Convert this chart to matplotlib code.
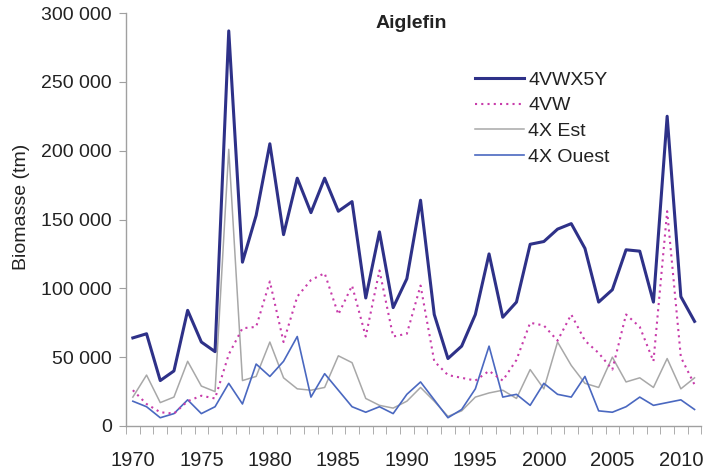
import matplotlib
matplotlib.use("Agg")
import matplotlib.pyplot as plt
from matplotlib.ticker import FuncFormatter, FixedLocator
import numpy as np

plt.rcParams['font.family'] = ['Liberation Sans', 'DejaVu Sans']

years = list(range(1970, 2012))
v_4vwx5y = [64000, 67000, 33000, 40000, 84000, 61000, 54000, 287000, 119000, 153000,
            205000, 139000, 180000, 155000, 180000, 156000, 163000, 93000, 141000, 86000,
            107000, 164000, 81000, 49000, 58000, 81000, 125000, 79000, 90000, 132000,
            134000, 143000, 147000, 129000, 90000, 99000, 128000, 127000, 90000, 225000,
            94000, 76000]
v_4vw = [26000, 16000, 10000, 9000, 18000, 22000, 20000, 52000, 71000, 72000,
         105000, 61000, 94000, 106000, 111000, 81000, 102000, 65000, 113000, 65000,
         67000, 102000, 47000, 37000, 35000, 33000, 40000, 33000, 48000, 75000,
         73000, 62000, 81000, 62000, 53000, 41000, 81000, 72000, 47000, 156000,
         50000, 30000]
v_4xest = [21000, 37000, 17000, 21000, 47000, 29000, 25000, 201000, 33000, 36000,
           61000, 35000, 27000, 26000, 28000, 51000, 46000, 20000, 15000, 13000,
           18000, 28000, 18000, 7000, 11000, 21000, 24000, 26000, 20000, 41000,
           27000, 61000, 44000, 31000, 28000, 50000, 32000, 35000, 28000, 49000,
           27000, 35000]
v_4xouest = [18000, 14000, 6000, 9000, 19000, 9000, 14000, 31000, 16000, 45000,
             36000, 47000, 65000, 21000, 38000, 26000, 14000, 10000, 14000, 9000,
             23000, 32000, 19000, 6000, 12000, 27000, 58000, 21000, 23000, 15000,
             31000, 23000, 21000, 36000, 11000, 10000, 14000, 21000, 15000, 17000,
             19000, 12000]
series_names = ['4VWX5Y', '4VW', '4X Est', '4X Ouest']
y_ticks = [0, 50000, 100000, 150000, 200000, 250000, 300000]
x_label_years = [1970, 1975, 1980, 1985, 1990, 1995, 2000, 2005, 2010]

W, H = 709, 471
fig = plt.figure(figsize=(W / 100, H / 100), dpi=100)
ax = fig.add_axes([126 / W, 1 - 426 / H, 575.4 / W, 413 / H])

x = np.arange(len(years))
txt = '#222222'
ax.plot(x, v_4vwx5y, color='#2E3188', lw=2.2, label=series_names[0], zorder=4)
ax.plot(x, v_4vw, color='#C83CAA', lw=1.5, ls=(0, (1, 2)), label=series_names[1], zorder=3)
ax.plot(x, v_4xest, color='#A8A8A8', lw=1.1, label=series_names[2], zorder=2)
ax.plot(x, v_4xouest, color='#4A68C0', lw=1.2, label=series_names[3], zorder=2)

ax.set_xlim(-0.5, len(years) - 0.5)
ax.set_ylim(0, 300000)

for s in ['top', 'right']:
    ax.spines[s].set_visible(False)
for s in ['left', 'bottom']:
    ax.spines[s].set_color('#A0A0A0')
    ax.spines[s].set_linewidth(1.0)

ax.set_yticks(y_ticks)
ax.yaxis.set_major_formatter(FuncFormatter(lambda v, p: f"{int(v):,}".replace(',', ' ')))
ax.tick_params(axis='y', length=5, color='#A0A0A0', labelsize=14, labelcolor=txt, pad=5)

ax.set_xticks([years.index(y) for y in x_label_years])
ax.set_xticklabels([str(y) for y in x_label_years])
ax.tick_params(axis='x', length=0, labelsize=14.5, labelcolor=txt, pad=18)
ax.xaxis.set_minor_locator(FixedLocator(np.arange(-0.5, len(years) + 0.5, 1)))
ax.tick_params(axis='x', which='minor', length=6, color='#A0A0A0')

fig.text(22 / W, 1 - 207 / H, 'Biomasse (tm)', rotation=90, ha='center', va='center',
         fontsize=14, color=txt)
fig.text(411 / W, 1 - 23 / H, 'Aiglefin', ha='center', va='center', fontsize=14,
         fontweight='bold', color=txt)

leg = fig.legend(loc='upper left', bbox_to_anchor=(475 / W, 1 - 71 / H), frameon=False,
                 fontsize=14, handlelength=2.5, handletextpad=0.25, labelspacing=0.42,
                 borderpad=0, borderaxespad=0)
for t in leg.get_texts():
    t.set_color(txt)

fig.savefig('out.png', dpi=100)
